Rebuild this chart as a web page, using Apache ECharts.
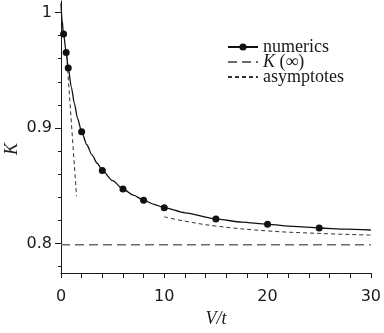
<!DOCTYPE html>
<html>
<head>
<meta charset="utf-8">
<script src="https://cdn.jsdelivr.net/npm/echarts@6/dist/echarts.min.js"></script>
<style>
html, body { margin: 0; padding: 0; background: #fff; }
#chart { width: 384px; height: 333px; }
</style>
</head>
<body>
<div id="chart"></div>
<script>
// Numerical K(V/t), drawn with markers
const numX = [0.25, 0.5, 0.7, 2, 4, 6, 8, 10, 15, 20, 25];
const numK = [0.981, 0.9645, 0.951, 0.8946, 0.8606, 0.8442, 0.8343, 0.8277, 0.8178, 0.813, 0.8098];
// Further readings along the solid curve (no markers)
const curveX = [0, 0.1, 1, 1.3, 1.6, 2.5, 3, 3.5, 5, 7, 9, 12, 17.5, 22.5, 27.5, 30];
const curveK = [1.008, 0.993, 0.934, 0.9195, 0.9065, 0.8832, 0.8742, 0.8669, 0.8515, 0.8388, 0.8307, 0.8232, 0.815, 0.8112, 0.8088, 0.808];
// Limit K(infinity)
const kInf = 0.795;
// Small-V asymptote
const asymSmallX = [0.55, 1.5];
const asymSmallK = [0.962, 0.838];
// Large-V asymptote
const asymLargeX = [10, 12, 15, 20, 25, 30];
const asymLargeK = [0.8196, 0.8158, 0.8115, 0.8072, 0.805, 0.8035];
// Tick labels
const xTickLabels = [0, 10, 20, 30];
const yTickLabels = [0.8, 0.9, 1];

const W = 384, H = 333;
const gLeft = 61, gRight = 12, gTop = 1, gBottom = 55;
const yMin = 0.77, yMax = 1.01;
const plotH = H - gTop - gBottom;
const py = v => gTop + (yMax - v) / (yMax - yMin) * plotH;

const ink = '#1a1a1a';
const serif = 'Liberation Serif';

// merge marker points and curve readings into one sorted line
const numericsData = numX.map((x, i) => ({ value: [x, numK[i]] }))
  .concat(curveX.map((x, i) => ({ value: [x, curveK[i]], symbol: 'none' })))
  .sort((a, b) => a.value[0] - b.value[0]);

const pairs = (xs, ys) => xs.map((x, i) => [x, ys[i]]);

const chart = echarts.init(document.getElementById('chart'), null, { renderer: 'canvas' });

chart.setOption({
  animation: false,
  backgroundColor: '#fff',
  grid: [
    { left: gLeft, right: gRight, top: gTop, bottom: gBottom },
    // minor y ticks every 0.02
    { left: gLeft, right: gRight, top: py(1.0), bottom: H - py(0.78) },
    // major y ticks with labels every 0.1
    { left: gLeft, right: gRight, top: py(1.0), bottom: H - py(0.8) }
  ],
  xAxis: [
    {
      type: 'value', gridIndex: 0, min: 0, max: 30, interval: 2,
      name: 'V/t', nameLocation: 'middle', nameGap: 31,
      nameTextStyle: { fontFamily: serif, fontStyle: 'italic', fontSize: 18, color: ink },
      axisLine: { show: true, lineStyle: { color: ink, width: 1 } },
      axisTick: { show: true, inside: false, length: 5, lineStyle: { color: ink, width: 1 } },
      axisLabel: {
        margin: 16, fontFamily: 'DejaVu Sans', fontSize: 16, color: ink,
        formatter: v => (xTickLabels.indexOf(v) >= 0 ? String(v) : '')
      },
      splitLine: { show: false }
    },
    { type: 'value', gridIndex: 1, min: 0, max: 30, show: false },
    { type: 'value', gridIndex: 2, min: 0, max: 30, show: false }
  ],
  yAxis: [
    {
      type: 'value', gridIndex: 0, min: yMin, max: yMax,
      axisLine: { show: true, lineStyle: { color: ink, width: 1 } },
      axisTick: { show: false },
      axisLabel: { show: false },
      splitLine: { show: false }
    },
    {
      type: 'value', gridIndex: 1, min: 0.78, max: 1.0, interval: 0.02,
      axisLine: { show: false },
      axisTick: { show: true, length: 3, lineStyle: { color: ink, width: 1 } },
      axisLabel: { show: false },
      splitLine: { show: false }
    },
    {
      type: 'value', gridIndex: 2, min: 0.8, max: 1.0, interval: 0.1,
      axisLine: { show: false },
      axisTick: { show: true, length: 6, lineStyle: { color: ink, width: 1 } },
      axisLabel: {
        margin: 9, fontFamily: 'DejaVu Sans', fontSize: 16, color: ink,
        formatter: v => {
          const r = Math.round(v * 10) / 10;
          return yTickLabels.indexOf(r) >= 0 ? String(r) : '';
        }
      },
      splitLine: { show: false }
    }
  ],
  legend: {
    orient: 'vertical', left: 227, top: 38, padding: 0,
    itemWidth: 30, itemHeight: 9, itemGap: -3, itemTextGap: 4,
    selectedMode: false,
    data: [
      { name: 'numerics' },
      { name: 'K (∞)', itemStyle: { opacity: 0 } },
      { name: 'asymptotes', itemStyle: { opacity: 0 } }
    ],
    formatter: name => (name === 'K (∞)' ? '{i|K} (∞)' : name),
    textStyle: {
      fontFamily: serif, fontSize: 18, color: ink,
      rich: { i: { fontFamily: serif, fontStyle: 'italic', fontSize: 18, color: ink } }
    }
  },
  graphic: [
    {
      type: 'text', left: 3, top: 143, rotation: Math.PI / 2,
      style: { text: 'K', font: 'italic 18px "Liberation Serif"', fill: ink }
    }
  ],
  series: [
    {
      name: 'K (∞)', type: 'line', xAxisIndex: 0, yAxisIndex: 0,
      data: [[0, kInf], [30, kInf]],
      symbol: 'none',
      lineStyle: { color: '#6a6a6a', width: 1.5, type: [9, 5] },
      itemStyle: { color: '#6a6a6a' }
    },
    {
      name: 'asymptotes', type: 'line', xAxisIndex: 0, yAxisIndex: 0,
      data: pairs(asymSmallX, asymSmallK),
      symbol: 'none',
      lineStyle: { color: '#333', width: 1, type: [4, 3] },
      itemStyle: { color: '#333' }
    },
    {
      name: 'asymptotes', type: 'line', xAxisIndex: 0, yAxisIndex: 0,
      data: pairs(asymLargeX, asymLargeK),
      symbol: 'none', smooth: 0.4,
      lineStyle: { color: '#333', width: 1, type: [4, 3] },
      itemStyle: { color: '#333' }
    },
    {
      name: 'numerics', type: 'line', xAxisIndex: 0, yAxisIndex: 0,
      data: numericsData,
      smooth: 0.25, smoothMonotone: 'x',
      symbol: 'circle', symbolSize: 7, showAllSymbol: true,
      lineStyle: { color: '#111', width: 1.3 },
      itemStyle: { color: '#111' },
      z: 5
    }
  ]
});
</script>
</body>
</html>
